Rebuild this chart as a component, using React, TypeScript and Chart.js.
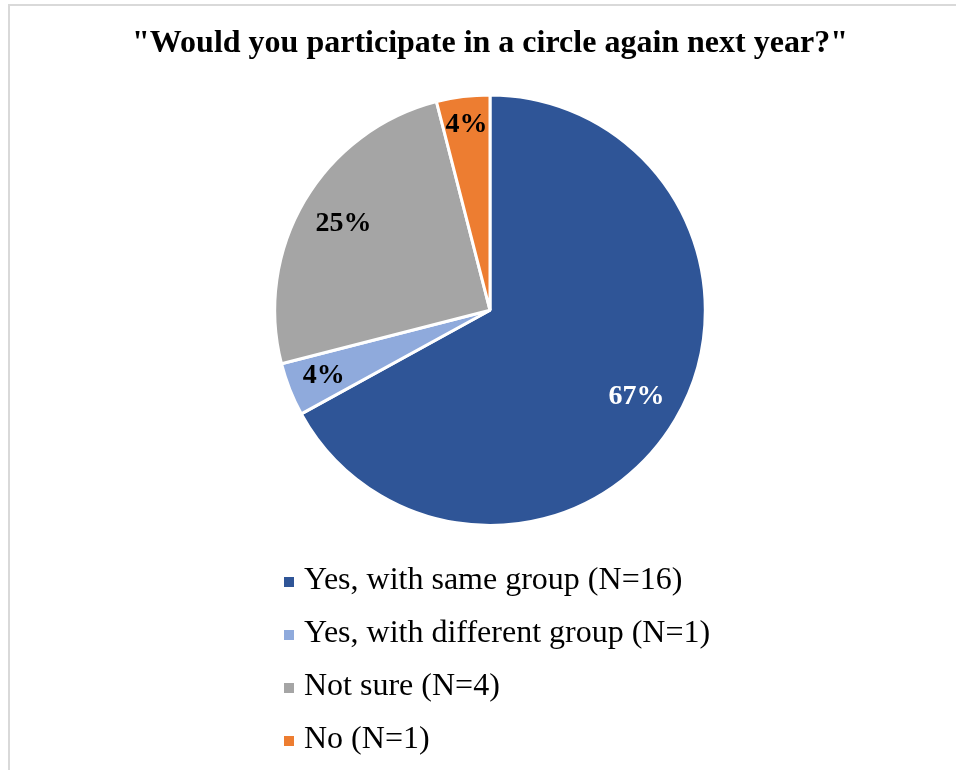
import React, { useEffect, useRef } from 'react';
import { Chart, registerables } from 'chart.js';

Chart.register(...registerables);

const categories = [
  'Yes, with same group (N=16)',
  'Yes, with different group (N=1)',
  'Not sure (N=4)',
  'No (N=1)',
];
const percentValues = [67, 4, 25, 4];
const sliceColors = ['#2F5597', '#8FAADC', '#A5A5A5', '#ED7D31'];
const labelColors = ['#FFFFFF', '#000000', '#000000', '#000000'];
const titleText = '"Would you participate in a circle again next year?"';

const SERIF = "'Liberation Serif', 'Times New Roman', Times, serif";
const labelRadiusFactors = [0.79, 0.83, 0.79, 0.87];

const framePlugin = {
  id: 'frame',
  beforeDraw(chart: any) {
    const { ctx, width, height } = chart;
    ctx.save();
    ctx.fillStyle = '#FFFFFF';
    ctx.fillRect(0, 0, width, height);
    ctx.fillStyle = '#D9D9D9';
    ctx.fillRect(8, 4, 2, height - 4);
    ctx.fillRect(8, 4, width - 8, 2);
    ctx.restore();
  },
};

const sliceLabelPlugin = {
  id: 'sliceLabels',
  afterDatasetsDraw(chart: any) {
    const { ctx } = chart;
    const meta = chart.getDatasetMeta(0);
    ctx.save();
    ctx.font = `bold 28px ${SERIF}`;
    ctx.textAlign = 'center';
    ctx.textBaseline = 'middle';
    meta.data.forEach((arc: any, i: number) => {
      const p = arc.getProps(['x', 'y', 'startAngle', 'endAngle', 'outerRadius'], true);
      const mid = (p.startAngle + p.endAngle) / 2;
      const r = p.outerRadius * labelRadiusFactors[i];
      ctx.fillStyle = labelColors[i];
      ctx.fillText(`${percentValues[i]}%`, p.x + Math.cos(mid) * r, p.y + Math.sin(mid) * r);
    });
    ctx.restore();
  },
};

const legendListPlugin = {
  id: 'legendList',
  afterDraw(chart: any) {
    const { ctx, chartArea } = chart;
    const cx = (chartArea.left + chartArea.right) / 2;
    const left = cx - 206;
    const firstY = chartArea.bottom + 54;
    const step = 53;
    ctx.save();
    ctx.font = `32px ${SERIF}`;
    ctx.textAlign = 'left';
    ctx.textBaseline = 'middle';
    categories.forEach((label, i) => {
      const y = firstY + i * step;
      ctx.fillStyle = sliceColors[i];
      ctx.fillRect(left, y - 4, 10, 10);
      ctx.fillStyle = '#000000';
      ctx.fillText(label, left + 20, y);
    });
    ctx.restore();
  },
};

export default function App() {
  const canvasRef = useRef<HTMLCanvasElement | null>(null);

  useEffect(() => {
    document.body.style.margin = '0';
    const canvas = canvasRef.current;
    if (!canvas) return;
    const chart = new Chart(canvas, {
      type: 'pie',
      data: {
        labels: categories,
        datasets: [
          {
            data: percentValues,
            backgroundColor: sliceColors,
            borderColor: '#FFFFFF',
            borderWidth: 3,
            hoverOffset: 0,
          },
        ],
      },
      options: {
        responsive: false,
        animation: false,
        devicePixelRatio: 1,
        layout: { padding: { left: 24, right: 0, top: 0, bottom: 243 } },
        plugins: {
          legend: { display: false },
          tooltip: { enabled: false },
          title: {
            display: true,
            text: titleText,
            color: '#000000',
            font: { family: SERIF, size: 32, weight: 'bold' },
            padding: { top: 25, bottom: 30 },
          },
        },
      },
      plugins: [framePlugin, sliceLabelPlugin, legendListPlugin],
    });
    return () => chart.destroy();
  }, []);

  return (
    <div style={{ position: 'absolute', left: 0, top: 0, width: 956, height: 770 }}>
      <canvas ref={canvasRef} width={956} height={770} style={{ display: 'block', width: 956, height: 770 }} />
    </div>
  );
}
